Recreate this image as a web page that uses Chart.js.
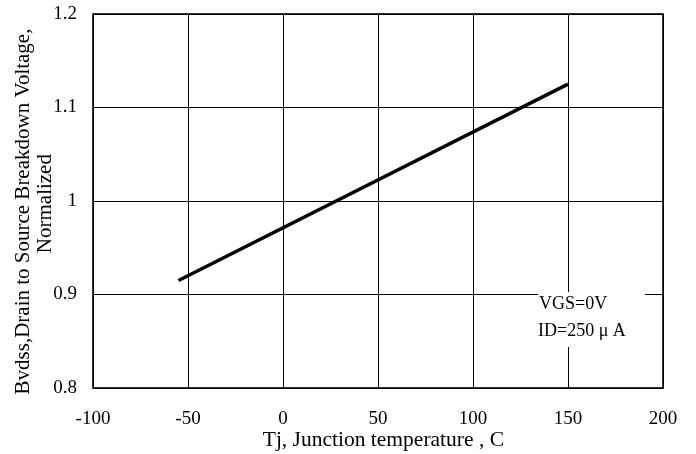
<!DOCTYPE html>
<html>
<head>
<meta charset="utf-8">
<script src="https://cdn.jsdelivr.net/npm/chart.js@4"></script>
<style>
html,body{margin:0;padding:0;background:#fff;}
#wrap{width:696px;height:454px;}
</style>
</head>
<body>
<div id="wrap"><canvas id="c" width="696" height="454"></canvas></div>
<script>
const tempC = [-55, 150];
const bvdssNorm = [0.915, 1.125];
const xTicks = [-100, -50, 0, 50, 100, 150, 200];
const yTicks = [0.8, 0.9, 1.0, 1.1, 1.2];
const yTickLabels = ['0.8', '0.9', '1', '1.1', '1.2'];
const xTitle = '\u00a0\u00a0Tj, Junction temperature , C';
const yTitleLines = ['Bvdss,Drain to Source Breakdown Voltage,\u00a0\u00a0\u00a0\u00a0', 'Normalized\u00a0'];
const noteLines = ['VGS=0V', 'ID=250 \u03bc A'];

const FONT = '"Liberation Serif", "Times New Roman", serif';

const frame = {
  id: 'frame',
  beforeDatasetsDraw(chart) {
    const {ctx, chartArea: a} = chart;
    const x0 = a.right - 125, y0 = a.bottom - 96, w = 107, h = 55;
    ctx.save();
    ctx.fillStyle = '#fff';
    ctx.fillRect(x0, y0, w, h);
    ctx.fillStyle = '#000';
    ctx.font = '18px ' + FONT;
    ctx.textBaseline = 'middle';
    ctx.textAlign = 'left';
    ctx.fillText(noteLines[0], x0 + 1, y0 + 12.5);
    ctx.fillText(noteLines[1], x0, y0 + 39.5);
    ctx.restore();
  },
  afterDraw(chart) {
    const {ctx, chartArea: a} = chart;
    ctx.save();
    ctx.strokeStyle = '#000';
    ctx.lineWidth = 1.6;
    ctx.strokeRect(a.left, a.top, a.right - a.left, a.bottom - a.top);
    ctx.restore();
  }
};

new Chart(document.getElementById('c'), {
  type: 'scatter',
  data: {
    datasets: [{
      data: tempC.map((t, i) => ({x: t, y: bvdssNorm[i]})),
      showLine: true,
      borderColor: '#000',
      borderWidth: 3.4,
      pointRadius: 0,
      fill: false
    }]
  },
  options: {
    responsive: false,
    animation: false,
    devicePixelRatio: 1,
    layout: {padding: {top: 14, right: 33, left: 0, bottom: 0}},
    plugins: {legend: {display: false}, tooltip: {enabled: false}},
    scales: {
      x: {
        type: 'linear', min: -100, max: 200,
        afterBuildTicks(s) { s.ticks = xTicks.map(v => ({value: v})); },
        afterFit(s) { s.height = 66; s.paddingLeft = 0; s.paddingRight = 0; },
        grid: {color: '#000', lineWidth: 1, drawTicks: false},
        border: {display: false},
        ticks: {color: '#000', font: {family: FONT, size: 19}, padding: 20, maxRotation: 0,
                callback: v => String(v)},
        title: {display: true, text: xTitle, color: '#000', font: {family: FONT, size: 21.5}, padding: {top: 0, bottom: 1}}
      },
      y: {
        type: 'linear', min: 0.8, max: 1.2,
        afterBuildTicks(s) { s.ticks = yTicks.map(v => ({value: v})); },
        afterFit(s) { s.width = 93; s.paddingTop = 0; s.paddingBottom = 0; },
        grid: {color: '#000', lineWidth: 1, drawTicks: false},
        border: {display: false},
        ticks: {color: '#000', font: {family: FONT, size: 19}, padding: 16,
                callback: (v, i) => yTickLabels[i]},
        title: {display: true, text: yTitleLines, color: '#000', font: {family: FONT, size: 21, lineHeight: 1.07}, padding: {top: 12, bottom: 0}}
      }
    }
  },
  plugins: [frame]
});
</script>
</body>
</html>
